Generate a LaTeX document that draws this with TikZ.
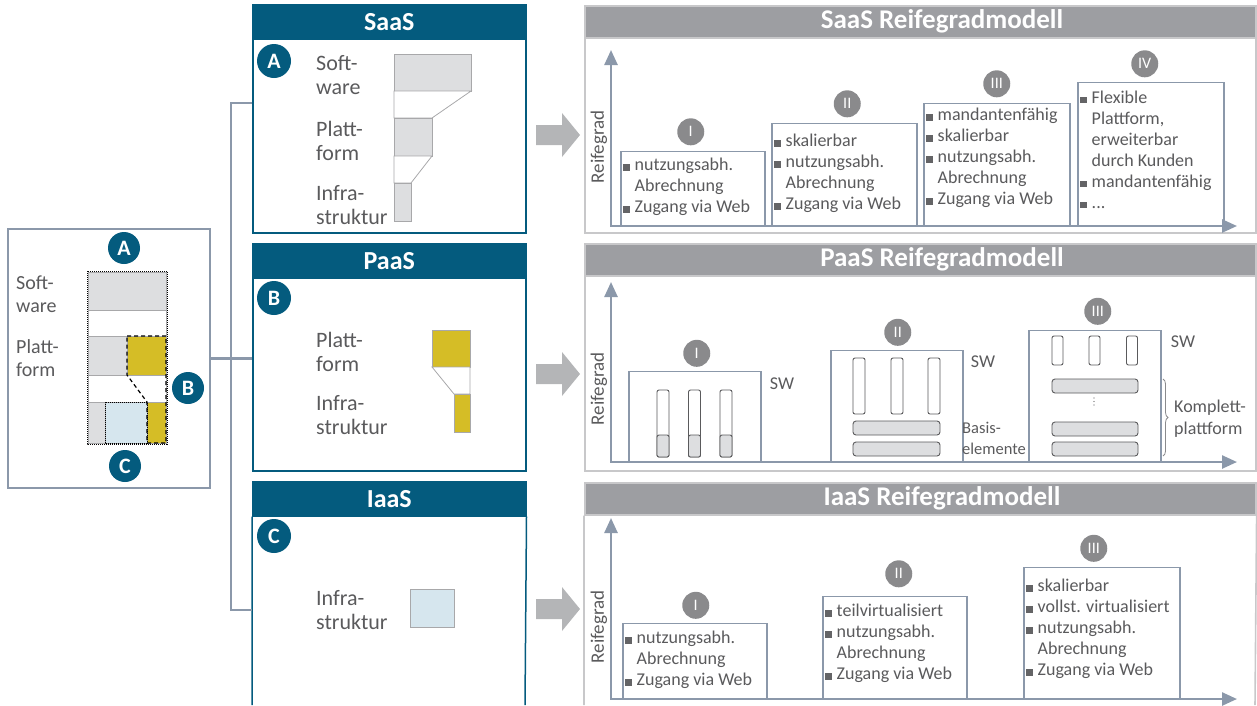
\documentclass[tikz,border=0pt]{standalone}
\usepackage{fontspec}
\setmainfont{Carlito}
\usepackage{tikz}
\usetikzlibrary{positioning,arrows.meta,decorations.pathreplacing}
\definecolor{petrol}{RGB}{4,91,126}
\definecolor{bluegray}{RGB}{139,152,170}
\definecolor{headgray}{RGB}{157,158,162}
\definecolor{framegray}{RGB}{200,200,202}
\definecolor{lightfill}{RGB}{221,222,224}
\definecolor{stackline}{RGB}{168,168,170}
\definecolor{mustard}{RGB}{213,189,38}
\definecolor{iceblue}{RGB}{214,230,238}
\definecolor{textgray}{RGB}{90,90,92}
\definecolor{bulletgray}{RGB}{100,100,102}
\definecolor{arrowgray}{RGB}{180,181,183}
\definecolor{circgray}{RGB}{138,138,140}
\definecolor{pillarline}{RGB}{90,90,92}

\newcommand{\sqbul}{{\color{bulletgray}\rule{6.5pt}{6.5pt}}\hspace{5pt}}
\newcommand{\sqind}{\hspace*{11.5pt}}

\begin{document}
\begin{tikzpicture}[x=1pt, y=-1pt,
  badge/.style={circle, fill=petrol, text=white, minimum size=34pt, inner sep=0pt, font=\fontsize{22}{22}\selectfont\bfseries},
  stagenr/.style={circle, fill=circgray, text=white, minimum size=27pt, inner sep=0pt, font=\fontsize{16}{16}\selectfont},
  svcbox/.style={draw=petrol, line width=1.5pt, minimum width=273pt, inner sep=0pt, anchor=north west},
  svchead/.style={fill=petrol, draw=petrol, line width=1.5pt, text=white, minimum width=273pt, minimum height=34pt, inner sep=0pt, anchor=north west, font=\fontsize{26}{26}\selectfont\bfseries},
  modbox/.style={draw=framegray, line width=1.6pt, minimum width=671pt, inner sep=0pt, anchor=north west},
  modhead/.style={fill=headgray, draw=framegray, line width=1.6pt, minimum width=671pt, minimum height=32pt, inner sep=0pt, anchor=north west},
  modtitle/.style={text=white, inner sep=0pt, font=\fontsize{27}{27}\selectfont\bfseries},
  stage/.style={draw=bluegray, line width=1.5pt, fill=white, inner sep=0pt, anchor=south west},
  items/.style={anchor=north west, inner sep=0pt, align=left, text=textgray, font=\fontsize{18}{21}\selectfont},
  layer/.style={anchor=west, inner sep=0pt, align=left, text=textgray, font=\fontsize{22}{24}\selectfont},
  swlabel/.style={inner sep=0pt, text=textgray, font=\fontsize{18}{18}\selectfont},
  rglabel/.style={rotate=90, inner sep=0pt, text=textgray, font=\fontsize{19}{19}\selectfont},
  axis/.style={draw=bluegray, line width=2.5pt, {Triangle[width=13pt,length=15pt]}-{Triangle[width=13pt,length=15pt]}},
  conn/.style={draw=bluegray, line width=2.5pt},
  stackpart/.style={draw=stackline, line width=0.8pt},
  pillar/.style={draw=pillarline, line width=0.9pt, rounded corners=2pt}]
\useasboundingbox (0,0) rectangle (1257,705);

% overview box
\node [draw=bluegray, line width=2pt, minimum width=202pt, minimum height=259pt, inner sep=0pt, anchor=north west] (overview) at (7,228) {};
\node [layer, font=\fontsize{20}{23}\selectfont] (ovSw) at (16,294.5) {Soft-\\ware};
\node [layer, font=\fontsize{20}{23}\selectfont] (ovPf) at (16,358.5) {Platt-\\form};
\draw[stackpart, fill=lightfill] (88,272) rectangle (166,310);
\draw[stackpart, fill=white] (88,310) rectangle (166,336);
\draw[stackpart, fill=lightfill] (88,336) rectangle (127,375);
\draw[stackpart, fill=mustard] (127,336) rectangle (166,375);
\draw[stackpart, fill=white] (88,375) rectangle (166,402);
\draw[stackpart, fill=lightfill] (88,402) rectangle (105,443);
\draw[stackpart, fill=iceblue] (105,402) rectangle (147,443);
\draw[stackpart, fill=mustard] (147,402) rectangle (166,443);
\draw[densely dotted, line width=1pt] (87,271) rectangle (167,444);
\draw[dash pattern=on 4pt off 3pt, line width=1.2pt] (127,336) -- (166,336) -- (166,443) -- (147,443) -- (147,402) -- (127,375) -- cycle;
\draw[densely dotted, line width=1pt] (105,402) rectangle (147,443);
\node [badge, minimum size=32pt] (ovA) at (124,248) {A};
\node [badge, minimum size=32pt] (ovB) at (188,388) {B};
\node [badge, minimum size=32pt] (ovC) at (125,466) {C};

% service boxes
\node [svcbox, minimum height=228pt] (saasbox) at (252,4) {};
\node [svchead] (saashead) at (252,4) {SaaS};
\node [badge] (saasA) at (274,61) {A};
\node [layer] (saasSw) at (316,75) {Soft-\\ware};
\node [layer] (saasPf) at (316,141) {Platt-\\form};
\node [layer] (saasIs) at (316,205) {Infra-\\struktur};
\draw[stackpart, fill=lightfill] (394,54) rectangle (471,91);
\draw[stackpart, fill=white] (394,91) -- (471,91) -- (432,118) -- (394,118) -- cycle;
\draw[stackpart, fill=lightfill] (394,118) rectangle (432,156);
\draw[stackpart, fill=white] (394,156) -- (432,156) -- (411,183) -- (394,183) -- cycle;
\draw[stackpart, fill=lightfill] (394,183) rectangle (411,221);

\node [svcbox, minimum height=227pt] (paasbox) at (252,243) {};
\node [svchead] (paashead) at (252,243) {PaaS};
\node [badge] (paasB) at (274,298) {B};
\node [layer] (paasPf) at (316,351.5) {Platt-\\form};
\node [layer] (paasIs) at (316,415) {Infra-\\struktur};
\draw[stackpart, fill=mustard] (432,330) rectangle (470,367);
\draw[stackpart, fill=white] (432,367) -- (470,367) -- (470,394) -- (454,394) -- cycle;
\draw[stackpart, fill=mustard] (454,394) rectangle (470,432);

\node [svchead] (iaashead) at (252,481) {IaaS};
\draw[petrol, line width=1.5pt] (iaashead.south west) -- (252,705) (iaashead.south east) -- (525,705);
\node [badge] (iaasC) at (274,536) {C};
\node [layer] (iaasIs) at (316,610) {Infra-\\struktur};
\draw[stackpart, fill=iceblue] (410,589) rectangle (454,627);

% tree lines
\coordinate (jS) at (231,103);
\coordinate (jI) at (231,610);
\draw[conn] (overview.east) -- (paashead.west |- overview.east);
\draw[conn] (saasbox.west |- jS) -- (jS) -- (jI) -- (iaashead.west |- jI);

% big arrows
\foreach \c in {135,374,609}
  \fill[arrowgray] (536,\c-10) -- (562,\c-10) -- (562,\c-22) -- (580,\c) -- (562,\c+22) -- (562,\c+10) -- (536,\c+10) -- cycle;

% SaaS model
\node [modbox, minimum height=227pt] (saasmod) at (584,5) {};
\node [modhead] (saasmodhead) at (584,5) {};
\node [modtitle] (saastitle) at (942,21) {SaaS Reifegradmodell};
\node [rglabel] (saasRg) at (599,147) {Reifegrad};
\node [stage, minimum width=144pt, minimum height=74pt] (SI) at (620,226) {};
\node [stage, minimum width=145pt, minimum height=102pt] (SII) at (771,226) {};
\node [stage, minimum width=146pt, minimum height=122pt] (SIII) at (923,226) {};
\node [stage, minimum width=146pt, minimum height=143pt] (SIV) at (1077,226) {};
\node [stagenr] (nSI) [above=5pt of SI, xshift=-2pt] {I};
\node [stagenr] (nSII) [above=5pt of SII, xshift=3pt] {II};
\node [stagenr] (nSIII) [above=5pt of SIII] {III};
\node [stagenr] (nSIV) [above=4pt of SIV, xshift=-6pt] {IV};
\node [items] (txtSI) [below right=7.4pt and 3pt of SI.north west] {\sqbul nutzungsabh.\\ \sqind Abrechnung\\ \sqbul Zugang via Web};
\node [items] (txtSII) [below right=11.4pt and 3pt of SII.north west] {\sqbul skalierbar\\ \sqbul nutzungsabh.\\ \sqind Abrechnung\\ \sqbul Zugang via Web};
\node [items] (txtSIII) [below right=5.4pt and 3pt of SIII.north west] {\sqbul mandantenfähig\\ \sqbul skalierbar\\ \sqbul nutzungsabh.\\ \sqind Abrechnung\\ \sqbul Zugang via Web};
\node [items] (txtSIV) [below right=8.9pt and 3pt of SIV.north west] {\sqbul Flexible\\ \sqind Plattform,\\ \sqind erweiterbar\\ \sqind durch Kunden\\ \sqbul mandantenfähig\\ \sqbul ...};
\coordinate (saasO) at (611,226);
\coordinate (saasY) at (611,50);
\coordinate (saasX) at (1237,226);
\draw[axis] (saasY) -- (saasO) -- (saasX);

% PaaS model
\node [modbox, minimum height=227pt] (paasmod) at (584,243) {};
\node [modhead] (paasmodhead) at (584,243) {};
\node [modtitle] (paastitle) at (942,259) {PaaS Reifegradmodell};
\node [rglabel] (paasRg) at (599,389) {Reifegrad};
\node [stage, minimum width=132pt, minimum height=90pt] (PI) at (628,462) {};
\node [stage, minimum width=132pt, minimum height=111pt] (PII) at (830,462) {};
\node [stage, minimum width=132pt, minimum height=131pt] (PIII) at (1028,462) {};
\node [stagenr] (nPI) [above=3.5pt of PI, xshift=2pt] {I};
\node [stagenr] (nPII) [above=3.5pt of PII, xshift=1pt] {II};
\node [stagenr] (nPIII) [above=4.5pt of PIII, xshift=3pt] {III};
\node [swlabel] (swPI) at (782,384) {SW};
\node [swlabel] (swPII) at (983,362) {SW};
\node [swlabel] (swPIII) at (1183,342) {SW};
\node [layer, font=\fontsize{16.5}{21}\selectfont] (basis) at (962,438.5) {Basis-\\elemente};
\node [layer, font=\fontsize{18}{22}\selectfont] (komplett) at (1174,419) {Komplett-\\plattform};
\foreach \px in {663,694.5,726} {
  \draw[pillar, fill=white] (\px-6,390) rectangle (\px+6,457);
  \draw[pillar, fill=lightfill] (\px-6,435) rectangle (\px+6,457);
}
\foreach \px in {859,897,934}
  \draw[pillar, fill=white] (\px-6,358) rectangle (\px+6,414);
\draw[pillar, fill=lightfill, rounded corners=3pt] (853,421) rectangle (940,435);
\draw[pillar, fill=lightfill, rounded corners=3pt] (853,442) rectangle (940,456);
\foreach \px in {1057.5,1094.5,1132}
  \draw[pillar, fill=white] (\px-5.5,336) rectangle (\px+5.5,365);
\foreach \py in {379,422,442}
  \draw[pillar, fill=lightfill, rounded corners=3pt] (1052,\py) rectangle (1138,\py+14);
\foreach \dy in {398,401.5,405}
  \fill[pillarline] (1094,\dy) circle (0.7pt);
\draw[decorate, decoration={brace, amplitude=5pt}, circgray, line width=0.8pt] (1163,379) -- (1163,456);
\coordinate (paasO) at (611,462);
\coordinate (paasY) at (611,282);
\coordinate (paasX) at (1237,462);
\draw[axis] (paasY) -- (paasO) -- (paasX);

% IaaS model
\node [modhead] (iaasmodhead) at (584,482) {};
\draw[framegray, line width=1.6pt] (iaasmodhead.south west) -- (584,705) (iaasmodhead.south east) -- (1255,705);
\node [modtitle] (iaastitle) at (942,498) {IaaS Reifegradmodell};
\node [rglabel] (iaasRg) at (599,627) {Reifegrad};
\node [stage, minimum width=144pt, minimum height=75pt] (II) at (622,699) {};
\node [stage, minimum width=144pt, minimum height=102pt] (III) at (822,699) {};
\node [stage, minimum width=156pt, minimum height=131pt] (IIII) at (1023,699) {};
\node [stagenr] (nII) [above=3.5pt of II, xshift=1pt] {I};
\node [stagenr] (nIII) [above=8pt of III, xshift=4pt] {II};
\node [stagenr] (nIIII) [above=4.5pt of IIII, xshift=-8pt] {III};
\node [items] (txtII) [below right=8.4pt and 3pt of II.north west] {\sqbul nutzungsabh.\\ \sqind Abrechnung\\ \sqbul Zugang via Web};
\node [items] (txtIII) [below right=8.4pt and 3pt of III.north west] {\sqbul teilvirtualisiert\\ \sqbul nutzungsabh.\\ \sqind Abrechnung\\ \sqbul Zugang via Web};
\node [items] (txtIIII) [below right=12.4pt and 3pt of IIII.north west] {\sqbul skalierbar\\ \sqbul vollst. virtualisiert\\ \sqbul nutzungsabh.\\ \sqind Abrechnung\\ \sqbul Zugang via Web};
\coordinate (iaasO) at (611,699);
\coordinate (iaasY) at (611,518);
\coordinate (iaasX) at (1237,699);
\draw[axis] (iaasY) -- (iaasO) -- (iaasX);
\end{tikzpicture}
\end{document}
